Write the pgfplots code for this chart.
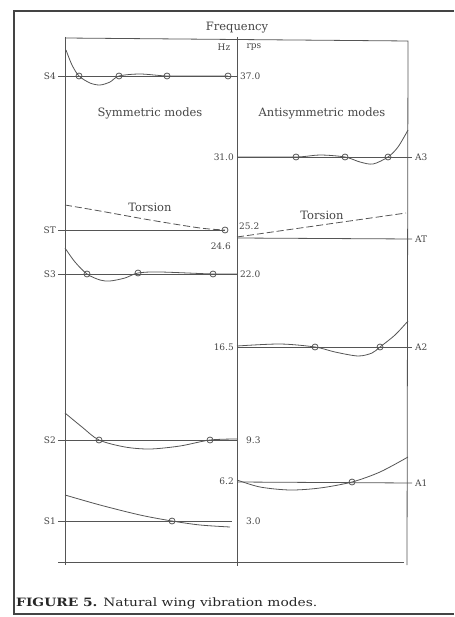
\documentclass[border=0pt]{standalone}
\usepackage{pgfplots}
\pgfplotsset{compat=1.18}
\usepackage{fontspec}
\setmainfont{DejaVu Serif}
\definecolor{ln}{RGB}{85,85,85}
\definecolor{tx}{RGB}{70,70,70}
\tikzset{
  lab/.style={font=\fontsize{9}{10}\selectfont, text=tx, inner sep=1pt},
  hd/.style={font=\fontsize{11.5}{13}\selectfont, text=tx, inner sep=1pt},
}
\begin{document}
\begin{tikzpicture}
\begin{axis}[
  width=454pt, height=617pt, scale only axis,
  xmin=0, xmax=454, ymin=0, ymax=617, y dir=reverse,
  hide axis, clip=false,
  cycle list={{ln, solid, mark=none}},
  every axis plot/.append style={color=ln, line width=0.8pt},
]
% bounding page
\addplot[draw=none, forget plot] coordinates {(0,0) (454,617)};
% page frame
\addplot[line width=1.3pt, color=ln!80!black] coordinates {(454,11) (14,11) (14,614) (454,614)};
% inner box
\addplot[ln] coordinates {(65,38) (408,41) (407,565)};
\addplot[ln] coordinates {(65,37) (65,565)};
\addplot[ln] coordinates {(58,562) (404,562)};
\addplot[ln] coordinates {(237,37) (237,566)};

% ---- S4 ----
\addplot[ln] coordinates {(58,76) (237,76)};
\addplot[smooth] coordinates {(66,50) (72,65) (79,76) (90,83) (100,85) (110,82) (119,76) (140,74) (167,76) (200,76) (228,76)};
\addplot[only marks, mark=o, mark size=3pt] coordinates {(79,76) (119,76) (167,76) (228,76)};

% ---- A3 ----
\addplot[ln] coordinates {(237,157) (412,157)};
\addplot[smooth] coordinates {(237,157) (296,157) (320,155) (345,157) (360,162) (373,164) (388,157) (398,147) (408,130)};
\addplot[only marks, mark=o, mark size=3pt] coordinates {(296,157) (345,157) (388,157)};

% ---- ST ----
\addplot[ln] coordinates {(58,230) (225,230)};
\addplot[smooth, dash pattern=on 7pt off 3pt] coordinates {(65,205) (100,211) (150,220) (200,228) (225,230)};
\addplot[only marks, mark=o, mark size=3pt] coordinates {(225,230)};

% ---- AT ----
\addplot[ln] coordinates {(237,238) (412,239)};
\addplot[dash pattern=on 7pt off 3pt] coordinates {(237,237) (406,213)};

% ---- S3 ----
\addplot[ln] coordinates {(58,274) (237,274)};
\addplot[smooth] coordinates {(65,248) (75,262) (87,274) (100,280) (110,281) (125,278) (138,273) (160,272) (213,274) (237,274)};
\addplot[only marks, mark=o, mark size=3pt] coordinates {(87,274) (138,273) (213,274)};

% ---- A2 ----
\addplot[ln] coordinates {(237,347) (412,347)};
\addplot[smooth] coordinates {(237,346) (280,344) (315,347) (335,352) (358,356) (372,353) (380,347) (395,335) (408,321)};
\addplot[only marks, mark=o, mark size=3pt] coordinates {(315,347) (380,347)};

% ---- S2 ----
\addplot[ln] coordinates {(58,440) (237,440)};
\addplot[smooth] coordinates {(65,413) (82,427) (99,440) (125,447) (150,449) (180,446) (210,440) (237,439)};
\addplot[only marks, mark=o, mark size=3pt] coordinates {(99,440) (210,440)};

% ---- A1 ----
\addplot[ln] coordinates {(237,482) (412,483)};
\addplot[smooth] coordinates {(237,480) (260,487) (290,490) (320,488) (352,482) (380,472) (408,457)};
\addplot[only marks, mark=o, mark size=3pt] coordinates {(352,482)};

% ---- S1 ----
\addplot[ln] coordinates {(58,521) (232,521)};
\addplot[smooth] coordinates {(65,495) (100,505) (140,515) (172,521) (200,525) (230,527)};
\addplot[only marks, mark=o, mark size=3pt] coordinates {(172,521)};

% ---- text ----
\node[hd] at (axis cs:237,28) {Frequency};
\node[lab] at (axis cs:224,47) {Hz};
\node[lab] at (axis cs:254,47) {rps};
\node[hd] at (axis cs:150,113) {Symmetric modes};
\node[hd] at (axis cs:322,113) {Antisymmetric modes};
\node[hd] at (axis cs:150,207) {Torsion};
\node[hd] at (axis cs:322,215) {Torsion};

\node[lab, anchor=east] at (axis cs:57,76) {S4};
\node[lab, anchor=west] at (axis cs:239,76) {37.0};
\node[lab, anchor=east] at (axis cs:235,157) {31.0};
\node[lab, anchor=west] at (axis cs:414,157) {A3};
\node[lab, anchor=east] at (axis cs:57,230) {ST};
\node[lab, anchor=west] at (axis cs:238,226) {25.2};
\node[lab, anchor=east] at (axis cs:232,246) {24.6};
\node[lab, anchor=west] at (axis cs:414,239) {AT};
\node[lab, anchor=east] at (axis cs:57,274) {S3};
\node[lab, anchor=west] at (axis cs:239,274) {22.0};
\node[lab, anchor=east] at (axis cs:235,347) {16.5};
\node[lab, anchor=west] at (axis cs:414,347) {A2};
\node[lab, anchor=east] at (axis cs:57,440) {S2};
\node[lab, anchor=west] at (axis cs:245,440) {9.3};
\node[lab, anchor=east] at (axis cs:235,481) {6.2};
\node[lab, anchor=west] at (axis cs:414,483) {A1};
\node[lab, anchor=east] at (axis cs:57,521) {S1};
\node[lab, anchor=west] at (axis cs:245,521) {3.0};

\node[anchor=west, inner sep=0pt, font=\fontsize{11.5}{13}\selectfont, text=black!85, xscale=1.2] at (axis cs:16,603) {\textbf{FIGURE 5.} Natural wing vibration modes.};
\end{axis}
\end{tikzpicture}
\end{document}
